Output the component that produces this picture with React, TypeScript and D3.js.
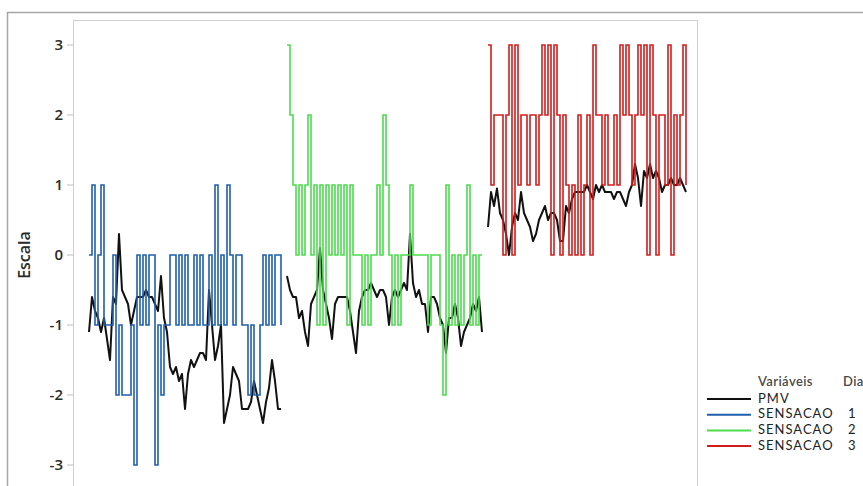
import React from "react";
import * as d3 from "d3";

// ---- Data ----
const yTicks = [-3, -2, -1, 0, 1, 2, 3];

const pmvDay1 = [
  -1.1, -0.6, -0.8, -0.9, -1.1, -0.9, -1.2, -1.5, -0.6, -0.7,
  0.3, -0.5, -0.6, -0.7, -1.0, -0.8, -0.6, -0.6, -0.6, -0.5,
  -0.6, -0.6, -0.7, -0.8, -0.3, -0.9, -1.1, -1.6, -1.7, -1.6,
  -1.8, -1.7, -2.2, -1.7, -1.5, -1.6, -1.5, -1.4, -1.4, -1.5,
  -0.5, -1.0, -1.5, -1.3, -1.0, -2.4, -2.2, -2.0, -1.6, -1.7,
  -1.8, -2.2, -2.2, -2.2, -2.1, -1.8, -2.0, -2.2, -2.4, -2.1,
  -1.9, -1.5, -1.8, -2.2, -2.2,
];
const pmvDay2 = [
  -0.3, -0.5, -0.6, -0.6, -0.9, -0.8, -1.1, -1.3, -0.7, -0.6,
  -0.5, 0.1, -0.5, -0.7, -0.9, -1.2, -0.7, -0.6, -0.6, -0.6,
  -0.6, -0.8, -1.1, -1.4, -0.8, -0.6, -0.5, -0.5, -0.4, -0.5,
  -0.6, -0.5, -0.5, -0.6, -1.0, -0.6, -0.5, -0.6, -0.5, -0.4,
  -0.5, 0.3, -0.4, -0.6, -0.5, -0.7, -0.7, -1.1, -0.6, -0.6,
  -0.7, -0.9, -1.0, -1.4, -0.9, -0.9, -0.7, -0.9, -1.3, -1.1,
  -1.0, -0.9, -0.7, -0.8, -0.6, -1.1,
];
const pmvDay3 = [
  0.4, 0.9, 0.7, 0.95, 0.6, 0.5, 0.3, 0.0, 0.4, 0.6,
  0.5, 0.9, 0.6, 0.5, 0.4, 0.2, 0.3, 0.5, 0.6, 0.7,
  0.5, 0.6, 0.6, 0.5, 0.2, 0.2, 0.7, 0.6, 0.8, 0.9,
  0.9, 0.9, 0.9, 1.0, 0.9, 0.8, 1.0, 0.9, 1.0, 0.9,
  0.9, 0.9, 0.8, 0.9, 0.9, 0.8, 0.7, 0.9, 1.0, 1.3,
  1.1, 0.7, 1.2, 1.1, 1.3, 1.1, 1.2, 1.1, 0.9, 1.0,
  1.0, 1.1, 1.0, 1.0, 1.1, 1.0, 0.9,
];

const sensDay1 = [
  0, 1, -1, 0, 1, -1, -1, -1, 0, -2,
  -1, -2, -2, -2, -1, -3, 0, -1, 0, -1,
  0, 0, -3, -1, -2, -1, -1, 0, 0, -1,
  0, -1, 0, -1, -1, 0, -1, 0, -1, -1,
  0, -1, 1, -1, 0, -1, 1, 0, -1, 0,
  0, -1, -1, -2, -1, -2, -2, -1, 0, -1,
  0, -1, 0, 0, -1,
];
const sensDay2 = [
  3, 2, 1, 0, 1, 0, 1, 2, 0, 1,
  -1, 1, -1, 1, 0, 1, 0, 1, 0, 1,
  -1, 1, 0, 0, 0, -1, 0, -1, 0, 0,
  1, 0, 2, 1, 0, -1, 0, -1, 0, 0,
  0, 1, 0, 0, 0, 0, 0, -1, 0, 0,
  0, -1, -2, 1, -1, 0, -1, 0, -1, 0,
  1, -1, 0, -1, 0, 0,
];
const sensDay3 = [
  3, 1, 2, 2, 2, 0, 2, 3, 0, 3,
  1, 2, 2, 1, 2, 2, 1, 2, 3, 2,
  3, 0, 3, 2, 0, 2, 1, 0, 1, 0,
  2, 0, 1, 2, 0, 3, 2, 2, 1, 2,
  1, 1, 2, 1, 3, 2, 3, 2, 1, 2,
  3, 2, 3, 0, 3, 2, 0, 2, 2, 1,
  3, 0, 2, 1, 2, 3, 1,
];

const dayStarts = [0, 66, 133];

const legendHeader = ["Variáveis", "Dia"];
const legendNames = ["PMV", "SENSACAO", "SENSACAO", "SENSACAO"];
const legendDays = ["", "1", "2", "3"];
const colors = ["#111111", "#1f5fae", "#4cdc4c", "#d21c1c"];

const W = 863;
const H = 486;
const FONT = "'Open Sans', 'Noto Sans', sans-serif";
const LEGEND_FONT = "Lato, 'Open Sans', sans-serif";

export default function App() {
  const x = d3.scaleLinear().domain([-16 / 3, 608 / 3]).range([73, 697]);
  const y = d3.scaleLinear().domain([-3, 3]).range([465, 45]);

  const mk = (vals: number[], start: number, step: boolean) =>
    d3
      .line<number>()
      .x((_, i) => x(start + i))
      .y((d) => y(d))
      .curve(step ? d3.curveStepAfter : d3.curveLinear)(vals) || "";

  const pmv = [pmvDay1, pmvDay2, pmvDay3];
  const sens = [sensDay1, sensDay2, sensDay3];

  const legendY = [398, 413.7, 429.4, 445.1];

  return (
    <svg
      width={W}
      height={H}
      style={{ position: "absolute", left: 0, top: 0, background: "#fff" }}
      fontFamily={FONT}
    >
      <rect x={0} y={0} width={W} height={H} fill="#ffffff" />
      {/* outer frame */}
      <rect x={7.5} y={12.5} width={W + 20} height={H + 20} fill="none" stroke="#a6a6a6" strokeWidth={1.5} />
      {/* plot area */}
      <rect x={73.5} y={20.5} width={624} height={H + 20} fill="#ffffff" stroke="#cfcfcf" strokeWidth={1} />

      {/* y axis ticks & labels */}
      {yTicks.map((t) => (
        <g key={t}>
          <line x1={67} x2={73} y1={y(t)} y2={y(t)} stroke="#bdbdbd" strokeWidth={1} />
          <text
            x={63}
            y={y(t)}
            dy="0.36em"
            textAnchor="end"
            fontSize={15}
            fontWeight={600}
            fill="#2a2a2a"
          >
            {t}
          </text>
        </g>
      ))}
      <text
        transform={`translate(30,255) rotate(-90)`}
        textAnchor="middle"
        fontSize={16}
        fontWeight={600}
        fill="#2a2a2a"
      >
        Escala
      </text>

      {/* PMV */}
      {pmv.map((vals, d) => (
        <path
          key={"p" + d}
          d={mk(vals, dayStarts[d], false)}
          fill="none"
          stroke={colors[0]}
          strokeWidth={2}
          strokeLinejoin="round"
        />
      ))}
      {/* Sensacao */}
      {sens.map((vals, d) => (
        <path
          key={"s" + d}
          d={mk(vals, dayStarts[d], true)}
          fill="none"
          stroke={colors[d + 1]}
          strokeWidth={1.6}
        />
      ))}

      {/* legend */}
      <g fontFamily={LEGEND_FONT}>
        <text x={758} y={381} dy="0.35em" fontSize={13} fontWeight={600} fill="#4a4a4a" letterSpacing={0.4}>
          {legendHeader[0]}
        </text>
        <text x={843} y={381} dy="0.35em" fontSize={13} fontWeight={600} fill="#4a4a4a" letterSpacing={0.4}>
          {legendHeader[1]}
        </text>
        {legendNames.map((n, i) => (
          <g key={"l" + i}>
            <line x1={707} x2={751} y1={legendY[i] + 1} y2={legendY[i] + 1} stroke={colors[i]} strokeWidth={2} />
            <text x={758} y={legendY[i]} dy="0.35em" fontSize={13} fill="#222" letterSpacing={1}>
              {n}
            </text>
            <text x={848} y={legendY[i]} dy="0.35em" fontSize={13} fill="#222">
              {legendDays[i]}
            </text>
          </g>
        ))}
      </g>
    </svg>
  );
}
